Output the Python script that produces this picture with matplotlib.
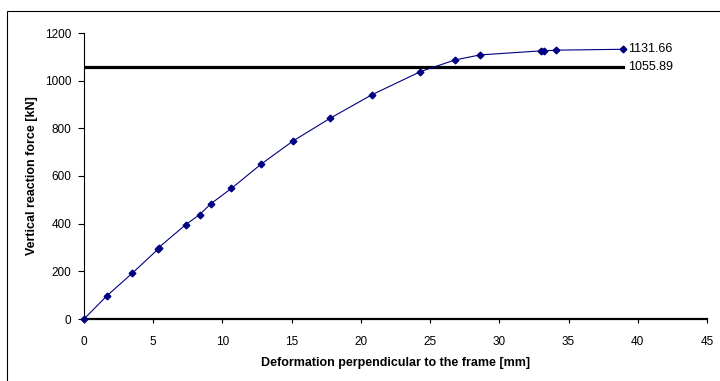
import matplotlib
matplotlib.use('Agg')
import matplotlib.pyplot as plt
from matplotlib.patches import Rectangle

# 数据
deformation = [0, 1.65, 3.5, 5.35, 5.4, 7.35, 8.35, 9.15, 10.65, 12.8, 15.1,
               17.8, 20.8, 24.3, 26.8, 28.6, 33.0, 33.2, 34.1, 38.9]
force = [0, 97, 193, 293, 300, 396, 438, 483, 548, 650, 747,
         843, 941, 1038, 1087, 1108, 1125, 1125, 1128, 1131.66]
limit_x = [0, 38.9]
limit_value = 1055.89
max_value = 1131.66
x_ticks = list(range(0, 50, 5))
y_ticks = list(range(0, 1400, 200))

plt.rcParams['font.family'] = ['Liberation Sans', 'DejaVu Sans']

fig = plt.figure(figsize=(7.2, 3.81), dpi=100)
ax = fig.add_axes([84 / 720, 1 - 319 / 381, 623 / 720, 286 / 381])

# 外框
fig.patches.append(Rectangle((7 / 720, -0.2), 1.2, 1 - 11 / 381 + 0.2,
                             transform=fig.transFigure, fill=False,
                             edgecolor='black', linewidth=0.8))

ax.plot(deformation, force, color='#000080', linewidth=0.8,
        marker='D', markersize=3.4, zorder=3, clip_on=False)
ax.plot(limit_x, [limit_value, limit_value], color='black', linewidth=2.3, zorder=2)

ax.text(39.3, max_value, f'{max_value:.2f}', fontsize=9, va='center', ha='left')
ax.text(39.3, limit_value, f'{limit_value:.2f}', fontsize=9, va='center', ha='left')

ax.set_xlim(0, 45)
ax.set_ylim(0, 1200)
ax.set_xticks(x_ticks)
ax.set_yticks(y_ticks)
ax.tick_params(axis='both', labelsize=8.5, direction='out', color='black')
ax.tick_params(axis='y', length=4, width=0.8, pad=5)
ax.tick_params(axis='x', length=3, width=0.8, pad=9)

ax.spines['top'].set_visible(False)
ax.spines['right'].set_visible(False)
ax.spines['left'].set_linewidth(0.8)
ax.spines['bottom'].set_linewidth(1.6)

ax.set_xlabel('Deformation perpendicular to the frame [mm]', fontsize=9,
              fontweight='bold', labelpad=7)
ax.set_ylabel('Vertical reaction force [kN]', fontsize=9,
              fontweight='bold', labelpad=5)

fig.savefig('out.png', dpi=100)
